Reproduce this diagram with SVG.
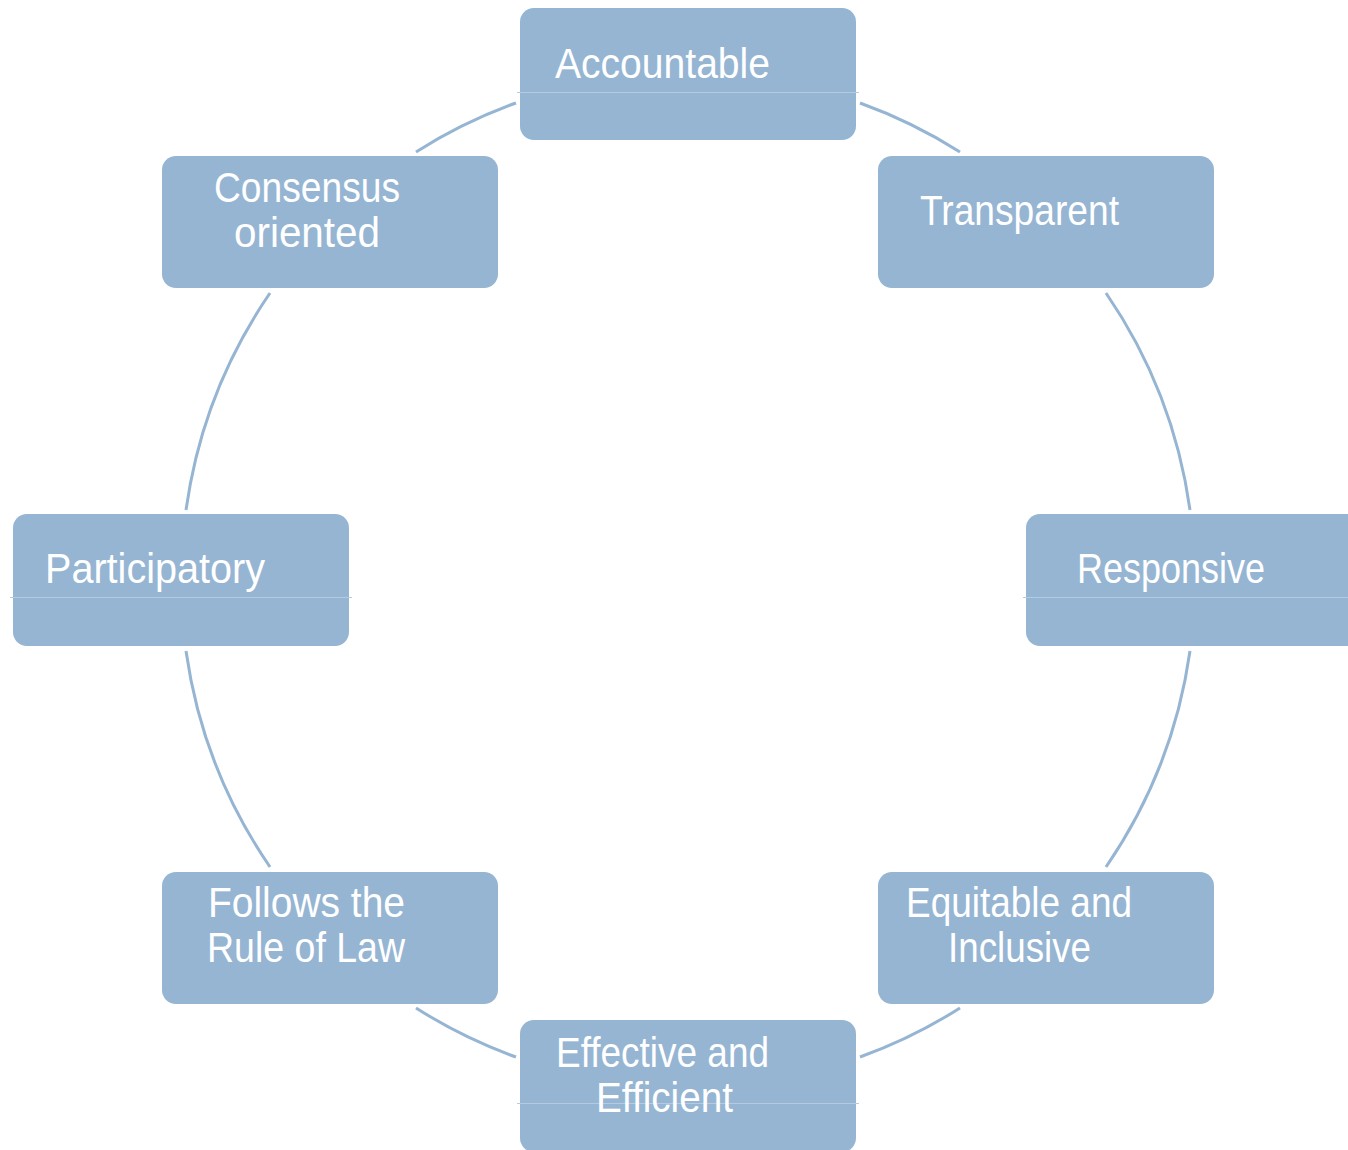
<svg xmlns="http://www.w3.org/2000/svg" width="1348" height="1150" viewBox="0 0 1348 1150">
<style>
.box{fill:#95b5d3}
.seam{stroke:#b4cbe1;stroke-width:1}
.lbl{font-family:"Liberation Sans",Arial,sans-serif;font-size:42px;fill:#ffffff}
.arc{fill:none;stroke:#95b5d3;stroke-width:3}
</style>
<rect width="1348" height="1150" fill="#ffffff"/>
<g id="connectors">
<path class="arc" d="M860,103 A507,507 0 0 1 960,152"/>
<path class="arc" d="M1106,293 A507,507 0 0 1 1190,510"/>
<path class="arc" d="M1190,651 A507,507 0 0 1 1106,867"/>
<path class="arc" d="M960,1008 A507,507 0 0 1 860,1057"/>
<path class="arc" d="M516,1057 A507,507 0 0 1 416,1008"/>
<path class="arc" d="M270,867 A507,507 0 0 1 186,651"/>
<path class="arc" d="M186,510 A507,507 0 0 1 270,293"/>
<path class="arc" d="M416,152 A507,507 0 0 1 516,103"/>
</g>
<g id="accountable">
<rect class="box" x="520" y="8" width="336" height="132" rx="14"/>
<line class="seam" x1="517" y1="92.5" x2="859" y2="92.5"/>
<text class="lbl" x="555" y="78" textLength="215" lengthAdjust="spacingAndGlyphs">Accountable</text>
</g>
<g id="transparent">
<rect class="box" x="878" y="156" width="336" height="132" rx="14"/>
<text class="lbl" x="920" y="225" textLength="199" lengthAdjust="spacingAndGlyphs">Transparent</text>
</g>
<g id="responsive">
<rect class="box" x="1026" y="514" width="336" height="132" rx="14"/>
<line class="seam" x1="1023" y1="597.5" x2="1348" y2="597.5"/>
<text class="lbl" x="1077" y="583" textLength="188" lengthAdjust="spacingAndGlyphs">Responsive</text>
</g>
<g id="equitable">
<rect class="box" x="878" y="872" width="336" height="132" rx="14"/>
<text class="lbl" x="906" y="917" textLength="226" lengthAdjust="spacingAndGlyphs">Equitable and</text>
<text class="lbl" x="948" y="962" textLength="143" lengthAdjust="spacingAndGlyphs">Inclusive</text>
</g>
<g id="effective">
<rect class="box" x="520" y="1020" width="336" height="132" rx="14"/>
<line class="seam" x1="517" y1="1103.5" x2="859" y2="1103.5"/>
<text class="lbl" x="556" y="1067" textLength="213" lengthAdjust="spacingAndGlyphs">Effective and</text>
<text class="lbl" x="596" y="1112" textLength="137" lengthAdjust="spacingAndGlyphs">Efficient</text>
</g>
<g id="follows">
<rect class="box" x="162" y="872" width="336" height="132" rx="14"/>
<text class="lbl" x="208" y="917" textLength="197" lengthAdjust="spacingAndGlyphs">Follows the</text>
<text class="lbl" x="207" y="962" textLength="198" lengthAdjust="spacingAndGlyphs">Rule of Law</text>
</g>
<g id="participatory">
<rect class="box" x="13" y="514" width="336" height="132" rx="14"/>
<line class="seam" x1="10" y1="597.5" x2="352" y2="597.5"/>
<text class="lbl" x="45" y="583" textLength="220" lengthAdjust="spacingAndGlyphs">Participatory</text>
</g>
<g id="consensus">
<rect class="box" x="162" y="156" width="336" height="132" rx="14"/>
<text class="lbl" x="214" y="202" textLength="186" lengthAdjust="spacingAndGlyphs">Consensus</text>
<text class="lbl" x="234" y="247" textLength="146" lengthAdjust="spacingAndGlyphs">oriented</text>
</g>
</svg>
